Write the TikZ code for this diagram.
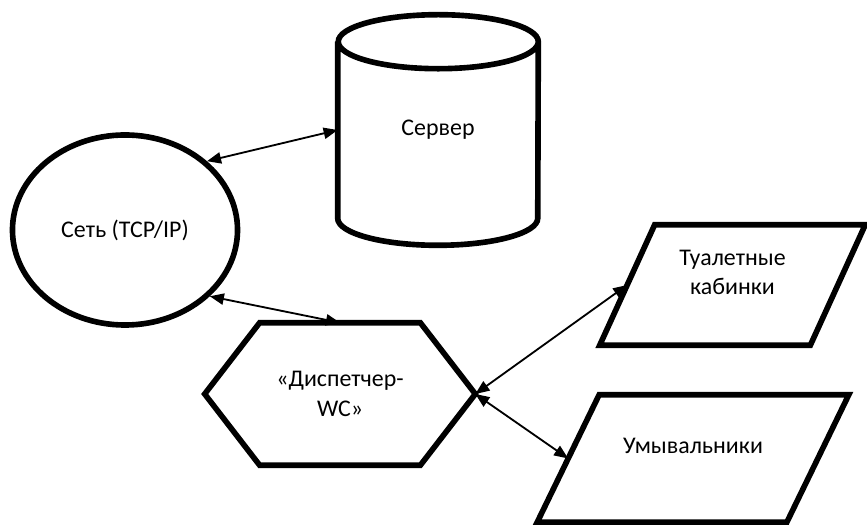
\documentclass[tikz,border=0pt]{standalone}
\usepackage{fontspec}
\setmainfont{Carlito}
\usepackage{tikz}
\usetikzlibrary{arrows.meta,shapes.geometric,calc}

\begin{document}
\begin{tikzpicture}[
  x=0.025cm, y=0.025cm,
  font=\fontsize{17}{21}\selectfont,
  outline/.style={draw, line width=4pt},
  link/.style={{Triangle[length=10pt,width=8pt]}-{Triangle[length=10pt,width=8pt]}, line width=1.3pt},
  room/.style={align=center, text depth=18pt, inner sep=0pt},
]
  \useasboundingbox (0,0) rectangle (867,525);

  % ---- Network and server ----
  \node[outline, ellipse, minimum width=5.625cm, minimum height=4.75cm, inner sep=0pt]
    (net) at (125,295) {Сеть (TCP/IP)};
  \node[minimum width=5cm, minimum height=4.4cm, inner sep=0pt] (srv) at (438,395) {Сервер};
    \draw[outline] (srv.north west) -- (srv.south west)
      arc[start angle=180, end angle=360, x radius=2.5cm, y radius=0.675cm]
      -- (srv.north east)
      arc[start angle=0, end angle=360, x radius=2.5cm, y radius=0.675cm];   % cylinder

  % ---- Dispatcher ----
  \node[minimum width=6.75cm, minimum height=3.55cm, inner sep=0pt, align=center]
    (hex) at (340,131) {«Диспетчер-\\WC»};
    \draw[outline] (hex.west) -- ($(hex.north west)+(55,0)$) -- ($(hex.north east)-(55,0)$)
      -- (hex.east) -- ($(hex.south east)-(55,0)$) -- ($(hex.south west)+(55,0)$) -- cycle;

  % ---- Rooms ----
  \node[room, minimum width=5.25cm, minimum height=3cm] (cab) at (732.5,240) {Туалетные\\кабинки};
    \draw[outline] ($(cab.north west)+(27.5,0)$) -- ($(cab.north east)+(27.5,0)$)
      -- ($(cab.south east)-(27.5,0)$) -- ($(cab.south west)-(27.5,0)$) -- cycle;
  \node[room, minimum width=6.225cm, minimum height=3.175cm] (sink) at (693,66.5) {Умывальники};
    \draw[outline] ($(sink.north west)+(31,0)$) -- ($(sink.north east)+(31,0)$)
      -- ($(sink.south east)-(31,0)$) -- ($(sink.south west)-(31,0)$) -- cycle;

  % ---- Arrows ----
  \draw[link] (net.40) -- (srv.west);
  \draw[link] (net.-38) -- (hex.north);
  \draw[link] (hex.east) -- (cab.west);
  \draw[link] (hex.east) -- (sink.west);
\end{tikzpicture}
\end{document}
